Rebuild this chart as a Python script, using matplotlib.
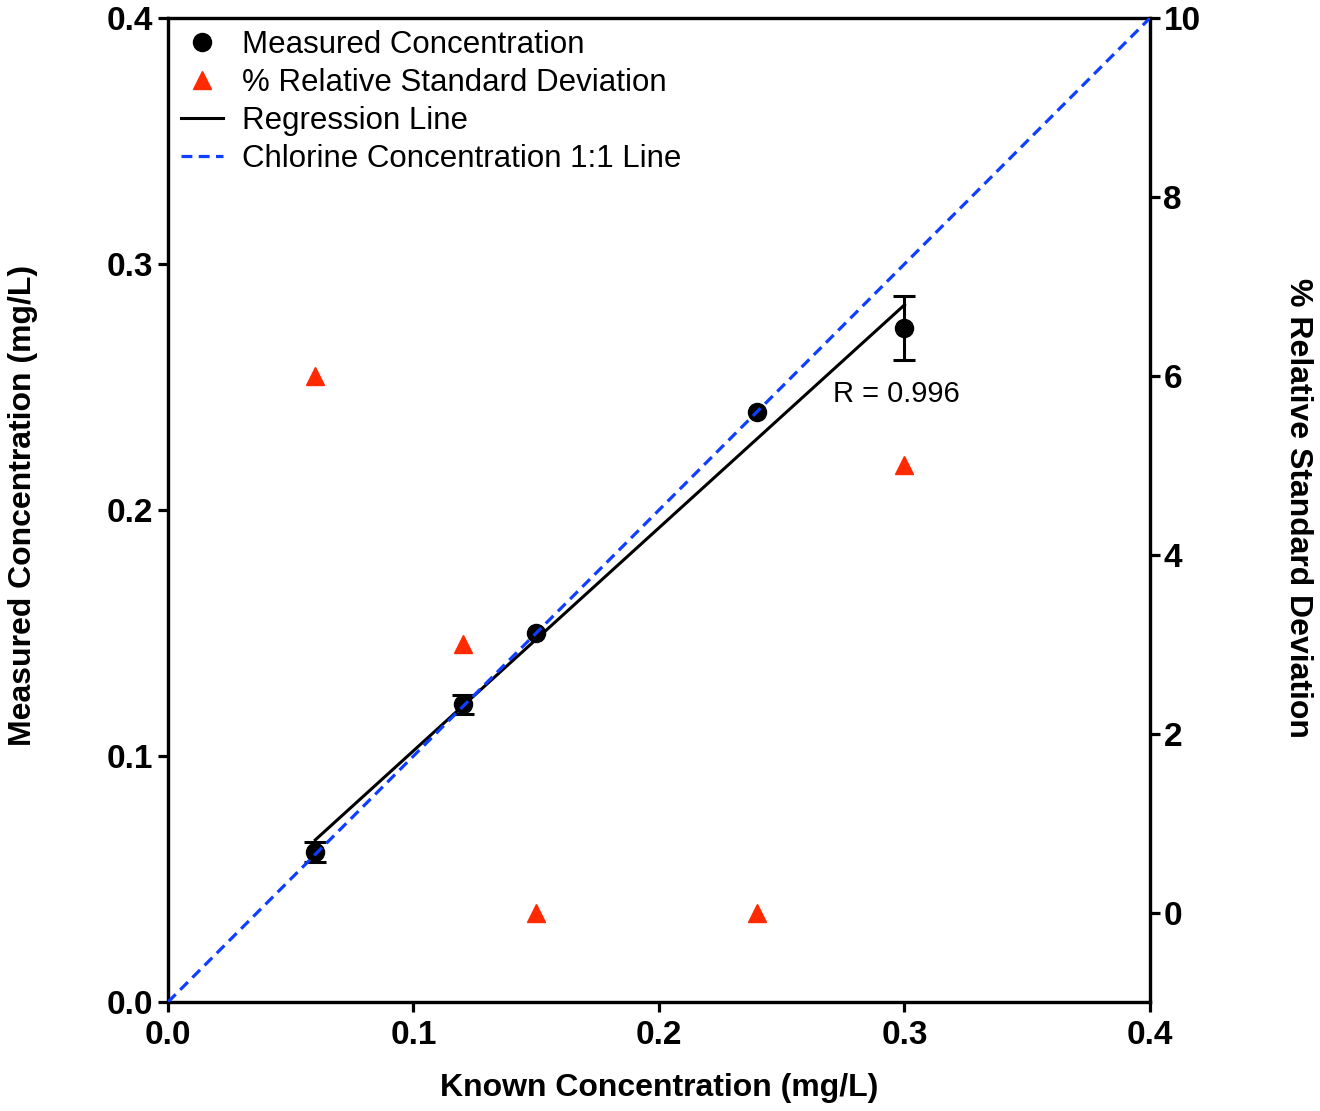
import numpy as np
import matplotlib
matplotlib.use("Agg")
import matplotlib.pyplot as plt
from matplotlib.lines import Line2D

plt.rcParams['font.family'] = ['Liberation Sans', 'DejaVu Sans']

known = [0.06, 0.12, 0.15, 0.24, 0.30]
measured = [0.061, 0.121, 0.150, 0.240, 0.274]
measured_err = [0.004, 0.004, 0.0, 0.0, 0.013]
rsd = [6.0, 3.0, 0.0, 0.0, 5.0]
x_ticks = [0.0, 0.1, 0.2, 0.3, 0.4]
y_ticks = [0.0, 0.1, 0.2, 0.3, 0.4]
rsd_ticks = [0, 2, 4, 6, 8, 10]
r_value = "R = 0.996"

fig = plt.figure(figsize=(13.2, 11.11), dpi=100)
ax = fig.add_axes([168/1320, 1-1002/1111, (1150-168)/1320, (1002-18)/1111])
ax2 = ax.twinx()
ax2.set_zorder(ax.get_zorder() - 1)
ax.patch.set_visible(False)

black = 'black'
red = '#FF2A00'
blue = '#0E3EFF'
dash = (0, (3.4, 2.0))

# 1:1 line (drawn on top of the markers)
ax.plot([0, 0.4], [0, 0.4], linestyle=dash, color=blue, lw=2.3, zorder=6)
# regression
slope, intercept = np.polyfit(known, measured, 1)
xr = np.array([min(known), max(known)])
ax.plot(xr, slope*xr + intercept, color=black, lw=2.2, zorder=3)
# measured
ax.plot(known, measured, 'o', color=black, ms=13, linestyle='none', zorder=4)
kx = np.array(known)
ky = np.array(measured)
ke = np.array(measured_err)
m = ke > 0
ax.errorbar(kx[m], ky[m], yerr=ke[m], fmt='none', ecolor=black,
            capsize=8, capthick=2.2, elinewidth=2.2, zorder=4)
# RSD
ax2.plot(known, rsd, '^', color=red, ms=13, linestyle='none', zorder=4)

ax.text(0.271, 0.247, r_value, fontsize=21, ha='left', va='center')

ax.set_xlim(0, 0.4)
ax.set_ylim(0, 0.4)
ax2.set_ylim(-1, 10)
ax.set_xticks(x_ticks)
ax.set_yticks(y_ticks)
ax2.set_yticks(rsd_ticks)
ax.set_xticklabels([f"{t:.1f}" for t in x_ticks])
ax.set_yticklabels([f"{t:.1f}" for t in y_ticks])
ax2.set_yticklabels([str(t) for t in rsd_ticks])

for a in (ax, ax2):
    for s in a.spines.values():
        s.set_linewidth(2.3)
    a.tick_params(width=2.3, length=7.2, labelsize=24, direction='out', pad=3.5)
    for lab in a.get_xticklabels() + a.get_yticklabels():
        lab.set_fontweight('bold')
ax.tick_params(axis='x', pad=6)
ax2.tick_params(axis='y', pad=2.5)

ax.set_xlabel("Known Concentration (mg/L)", fontsize=23, fontweight='bold', va='center')
ax.xaxis.set_label_coords(0.5, (1002-1088)/984)
ax.set_ylabel("Measured Concentration (mg/L)", fontsize=23, fontweight='bold', va='center')
ax.yaxis.set_label_coords((23-168)/982, (1002-505)/984)
ax2.set_ylabel("% Relative Standard Deviation", fontsize=23, fontweight='bold',
               rotation=-90, va='center')
ax2.yaxis.set_label_coords((1298-168)/982, (1002-508)/984)

handles = [
    Line2D([], [], marker='o', color=black, ms=13, linestyle='none'),
    Line2D([], [], marker='^', color=red, ms=13, linestyle='none'),
    Line2D([], [], color=black, lw=2.2),
    Line2D([], [], color=blue, lw=2.3, linestyle=dash),
]
labels = ["Measured Concentration", "% Relative Standard Deviation",
          "Regression Line", "Chlorine Concentration 1:1 Line"]
leg = ax.legend(handles, labels, loc='upper left', frameon=False, fontsize=22.5,
                bbox_to_anchor=(7/982, 1.0 - 6/984), borderaxespad=0, borderpad=0.2,
                handlelength=1.33, handletextpad=0.6, labelspacing=0.255)

fig.savefig("out.png", dpi=100)
